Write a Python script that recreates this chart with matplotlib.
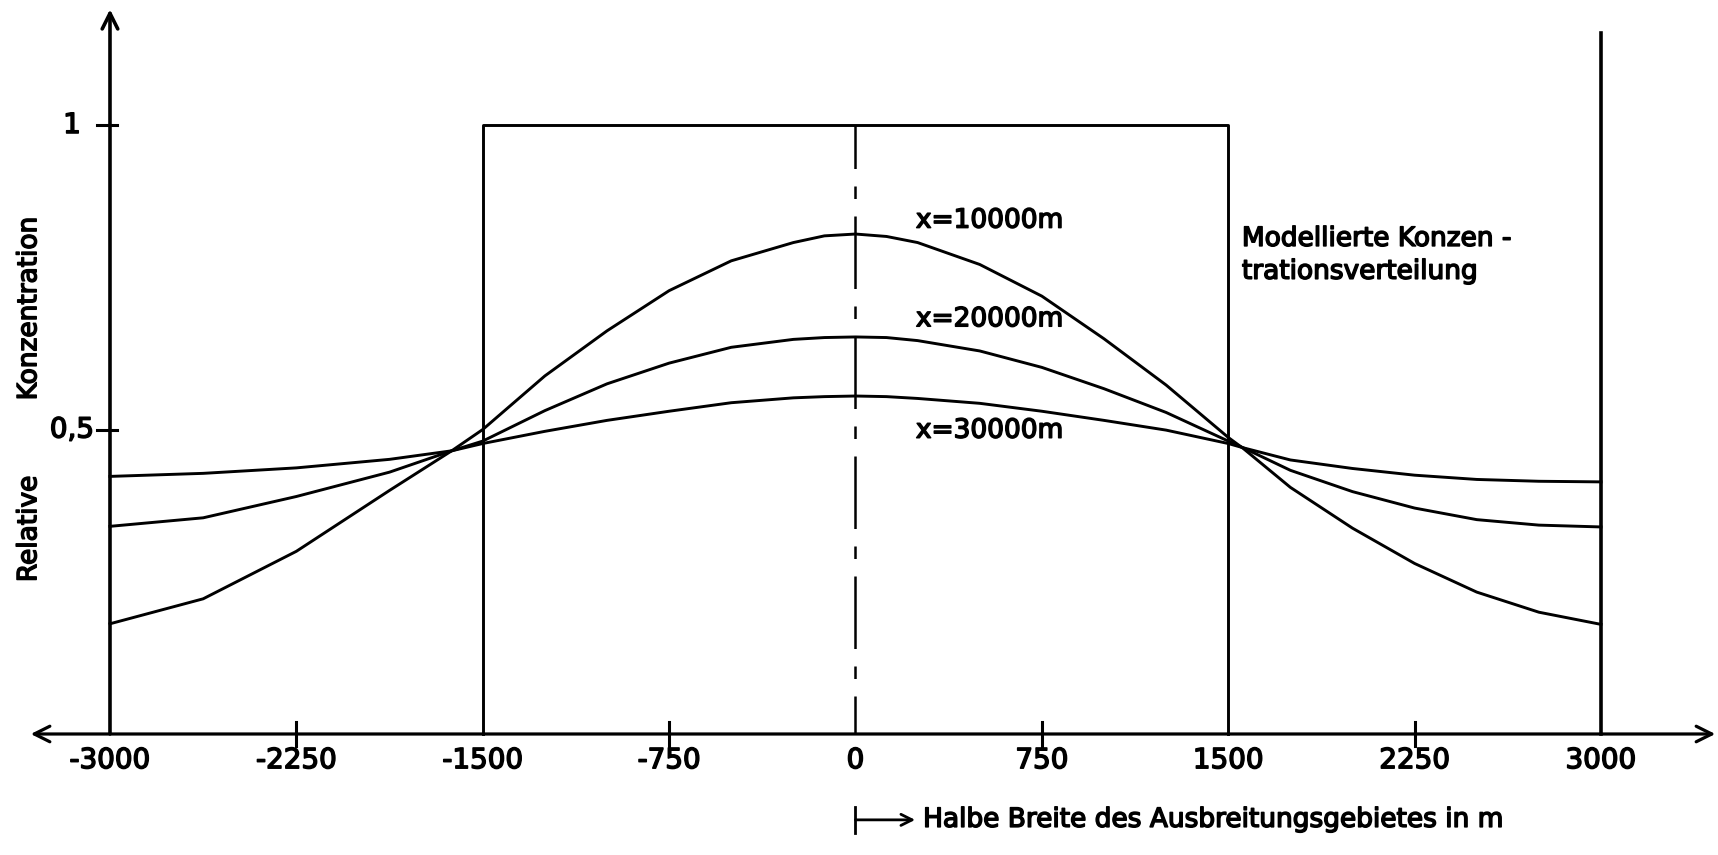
import numpy as np
from matplotlib import pyplot as plt
import matplotlib.patheffects as pe

# half width of the spreading area (m) and relative concentration per distance
xs = [-3000, -2625, -2250, -1875, -1625, -1500, -1250, -1000, -750, -500, -250, -125, 0,
      125, 250, 500, 750, 1000, 1250, 1500, 1560, 1750, 2000, 2250, 2500, 2750, 3000]
c10000 = [0.181, 0.222, 0.300, 0.400, 0.465, 0.500, 0.588, 0.662, 0.728, 0.777, 0.807, 0.818, 0.821,
          0.817, 0.807, 0.771, 0.719, 0.649, 0.573, 0.487, 0.469, 0.405, 0.338, 0.280, 0.233, 0.200, 0.180]
c20000 = [0.341, 0.355, 0.390, 0.430, 0.465, 0.481, 0.531, 0.575, 0.609, 0.635, 0.648, 0.651, 0.652,
          0.651, 0.646, 0.629, 0.602, 0.567, 0.528, 0.481, 0.470, 0.433, 0.398, 0.371, 0.352, 0.343, 0.340]
c30000 = [0.423, 0.428, 0.437, 0.451, 0.465, 0.477, 0.497, 0.515, 0.530, 0.544, 0.552, 0.554, 0.555,
          0.554, 0.551, 0.543, 0.530, 0.515, 0.499, 0.477, 0.470, 0.450, 0.436, 0.425, 0.418, 0.415, 0.414]
curve_labels = ['x=10000m', 'x=20000m', 'x=30000m']
label_y = [0.843, 0.681, 0.498]

xticks = [-3000, -2250, -1500, -750, 0, 750, 1500, 2250, 3000]
xticklabels = ['-3000', '-2250', '-1500', '-750', '0', '750', '1500', '2250', '3000']
yticks = [1, 0.5]
yticklabels = ['1', '0,5']
band = [-1500, 1500]   # modelled block distribution
band_level = 1.0

plt.rcParams['font.family'] = ['DejaVu Sans']
fig = plt.figure(figsize=(17.18, 8.55), dpi=100)
ax = fig.add_axes([0, 0, 1, 1])
ax.set_xlim(-3442.6, 3470.8)
ax.set_ylim(-0.1987, 1.2053)
ax.axis('off')

k = 'black'
# thicker strokes, like the hand lettering
ink = [pe.withStroke(linewidth=1.1, foreground=k)]

# axes with arrows
ax.annotate('', xy=(-3000, 1.19), xytext=(-3000, 0),
            arrowprops=dict(arrowstyle='->', lw=2.6, color=k, mutation_scale=28,
                            shrinkA=0, shrinkB=0))
ax.annotate('', xy=(-3319, 0), xytext=(3460, 0),
            arrowprops=dict(arrowstyle='<->', lw=2.3, color=k, mutation_scale=28,
                            shrinkA=0, shrinkB=0))
ax.plot([3000, 3000], [0, 1.151], color=k, lw=2.6)

# modelled distribution (rectangle)
ax.plot([band[0], band[0], band[1], band[1]], [0, band_level, band_level, 0], color=k, lw=2.1)

# centre line
ax.plot([0, 0], [band_level, 0], color=k, lw=1.8, linestyle=(11.6, (29, 7, 5, 7)))

# curves
for ys in [c10000, c20000, c30000]:
    ax.plot(xs, ys, color=k, lw=2.1)
for txt, yy in zip(curve_labels, label_y):
    ax.text(243, yy, txt, fontsize=19, ha='left', va='center', path_effects=ink)

# ticks
for t in xticks:
    if t in (-2250, -750, 750, 2250):
        ax.plot([t, t], [-0.02, 0.02], color=k, lw=2.2)
for t, lab in zip(xticks, xticklabels):
    ax.text(t, -0.043, lab, fontsize=20, ha='center', va='center', path_effects=ink)
for t, lab in zip(yticks, yticklabels):
    ax.plot([-3052, -2972], [t, t], color=k, lw=2.2)
    ax.text(-3153, t, lab, fontsize=20, ha='center', va='center', path_effects=ink)

# axis titles
ax.text(-3325, 0.699, 'Konzentration', fontsize=19, rotation=90, ha='center', va='center',
        path_effects=ink)
ax.text(-3325, 0.337, 'Relative', fontsize=19, rotation=90, ha='center', va='center',
        path_effects=ink)
ax.text(1555, 0.813, 'Modellierte Konzen -', fontsize=19, ha='left', va='center',
        path_effects=ink)
ax.text(1555, 0.759, 'trationsverteilung', fontsize=19, ha='left', va='center',
        path_effects=ink)

ax.plot([0, 0], [-0.162, -0.12], color=k, lw=2.0)
ax.annotate('', xy=(240, -0.141), xytext=(0, -0.141),
            arrowprops=dict(arrowstyle='->', lw=2.0, color=k, mutation_scale=20,
                            shrinkA=0, shrinkB=0))
ax.text(272, -0.141, 'Halbe Breite des Ausbreitungsgebietes in m', fontsize=19,
        ha='left', va='center', path_effects=ink)

fig.savefig('out.png', dpi=100)
